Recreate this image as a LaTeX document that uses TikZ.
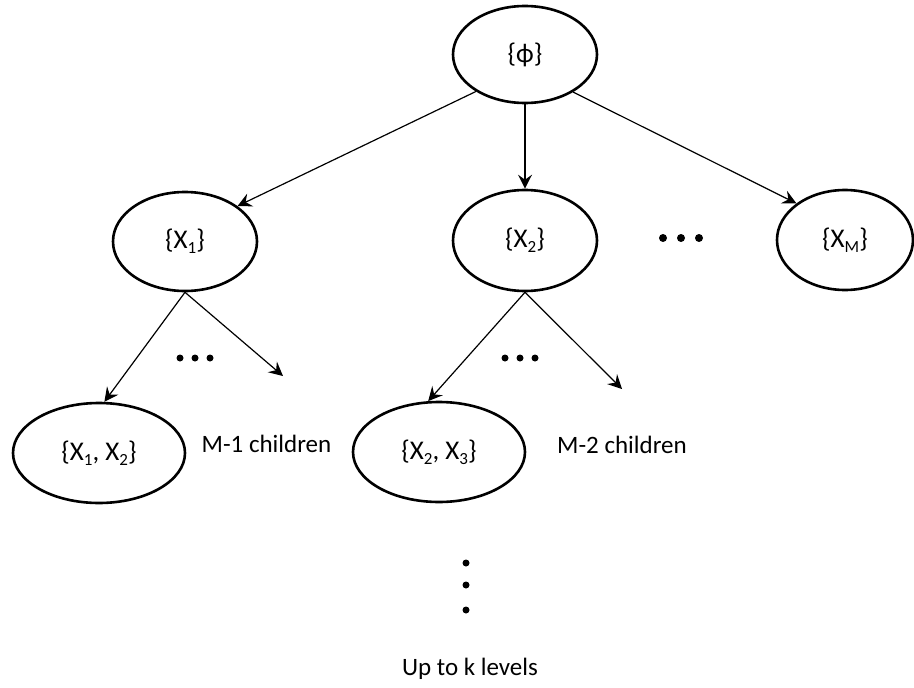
\documentclass[tikz,border=0pt]{standalone}
\usepackage{fontspec}
\setmainfont{Carlito}
\usetikzlibrary{shapes.geometric,arrows.meta}

% lowered small index, as in X_1
\newcommand\idx[1]{\raisebox{-0.4ex}{\fontsize{17}{17}\selectfont #1}}

\tikzset{
  setnode/.style={ellipse, draw, line width=2.6pt, inner sep=0pt,
                  font=\fontsize{27}{30}\selectfont},
  edge/.style={line width=1.2pt, -{Stealth[length=14pt,width=14pt,inset=5pt]}},
  note/.style={font=\fontsize{25}{30}\selectfont, inner sep=0pt},
  dot/.style={circle, fill=black, inner sep=0pt, minimum size=7pt}
}

\begin{document}
\begin{tikzpicture}[x=1pt,y=-1pt]
\useasboundingbox (0,0) rectangle (914,688);

% sets of the search tree
\node[setnode, minimum width=144pt, minimum height=97pt]  (root) at (525,54.5) {\{ϕ\}};
\node[setnode, minimum width=144pt, minimum height=99pt]  (x1)   at (185,241.5) {\{X\idx{1}\}};
\node[setnode, minimum width=144pt, minimum height=101pt] (x2)   at (525,240.5) {\{X\idx{2}\}};
\node[setnode, minimum width=136pt, minimum height=100pt] (xm)   at (845,240) {\{X\idx{M}\}};
\node[setnode, minimum width=172pt, minimum height=100pt] (x12)  at (99,453) {\{X\idx{1}, X\idx{2}\}};
\node[setnode, minimum width=172pt, minimum height=100pt] (x23)  at (439,452) {\{X\idx{2}, X\idx{3}\}};

% open ends of the child fans
\coordinate (c1) at (283,376);
\coordinate (c2) at (622,389);

% edges
\draw[edge] (root.217) -- (x1.34);
\draw[edge] (root.south) -- (x2.north);
\draw[edge] (root.322) -- (xm.143);
\draw[edge] (x1.south) -- (x12.84);
\draw[edge] (x1.south) -- (c1);
\draw[edge] (x2.south) -- (x23.102);
\draw[edge] (x2.south) -- (c2);

% ellipsis dots
\node[dot, minimum size=8pt] (m1) at (663,238) {};
\node[dot, minimum size=8pt] (m2) at (681,238) {};
\node[dot, minimum size=8pt] (m3) at (699,238) {};
\node[dot] (a1) at (180,358) {};
\node[dot] (a2) at (195,358) {};
\node[dot] (a3) at (210,358) {};
\node[dot] (b1) at (505,358) {};
\node[dot] (b2) at (520,358) {};
\node[dot] (b3) at (535,358) {};
\node[dot] (v1) at (466,563) {};
\node[dot] (v2) at (466,585) {};
\node[dot] (v3) at (466,610) {};

% labels
\node[note] (n1) at (266.5,444) {M-1 children};
\node[note] (n2) at (622,445) {M-2 children};
\node[note] (lv) at (470,669) {Up to k levels};
\end{tikzpicture}
\end{document}
